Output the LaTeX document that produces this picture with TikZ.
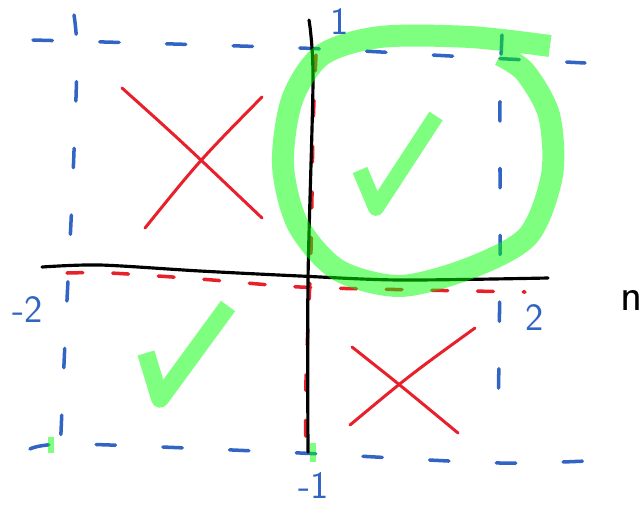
\documentclass[tikz,border=0pt]{standalone}
\usepackage{tikz}
\usetikzlibrary{calc}
\definecolor{penblue}{HTML}{3264C4}
\definecolor{penred}{HTML}{E8202A}
\definecolor{penblack}{HTML}{000000}
\definecolor{pengreen}{HTML}{00FF00}
\tikzset{
  gridline/.style  = {draw=penblue, line width=2pt, line cap=round,
                      dash pattern=on 11pt off 27pt},
  regline/.style   = {draw=penred, line width=2pt, line cap=round,
                      dash pattern=on 9pt off 17pt},
  axisline/.style  = {draw=penblack, line width=1.8pt, line cap=round},
  crossline/.style = {draw=penred, line width=1.7pt, line cap=round},
  ringline/.style  = {draw=pengreen, opacity=0.5, line width=12.5pt},
  checkline/.style = {draw=pengreen, opacity=0.5, line width=9pt, line join=round},
  penlab/.style    = {font=\sffamily\fontsize{22}{24}\selectfont, text=penblue, inner sep=0pt},
}
\begin{document}
\begin{tikzpicture}[x=0.02cm, y=-0.02cm]
  \useasboundingbox (0,0) rectangle (644,504);
  % dashed box lines
  \draw[gridline] plot[smooth] coordinates {(33,40) (300,48) (450,56) (585,63)};
  \draw[gridline] plot[smooth] coordinates {(30,449) (75,444) (300,453) (500,463) (625,459)};
  \draw[gridline] plot[smooth] coordinates {(74,15) (77,60) (72,200) (66,320) (60,455)};
  \draw[gridline] plot[smooth] coordinates {(502,35) (500,100) (500,260) (498,430)};
  % red traces along the axes
  \draw[regline] plot[smooth] coordinates {(67,273) (110,273) (200,279) (300,287) (420,290) (525,292)};
  \draw[regline] plot[smooth] coordinates {(316,55) (313,130) (311,250) (306,380) (306,465)};
  % axes
  \draw[axisline] plot[smooth] coordinates {(42,267) (100,265) (200,271) (300,276) (400,280) (548,278)};
  \draw[axisline] plot[smooth] coordinates {(309,20) (313,80) (308,280) (308,452)};
  % crosses
  \draw[crossline] (122,88) .. controls (180,140) .. (262,218);
  \draw[crossline] (145,228) .. controls (200,160) .. (262,97);
  \draw[crossline] (352,347) .. controls (400,385) .. (458,433);
  \draw[crossline] (350,425) .. controls (410,375) .. (475,328);
  % highlighter ring and ticks
  \draw[ringline] plot[smooth] coordinates {(550,46) (470,37) (380,37) (322,55) (292,100)
    (283,165) (298,225) (338,270) (400,286) (470,268) (528,236) (552,175) (549,115) (525,72) (500,55)};
  \draw[checkline] (360,170) -- (376,208) -- (436,116);
  \draw[checkline, line width=10pt] (146,353) -- (160,399) -- (228,306);
  \draw[draw=pengreen, opacity=0.5, line width=3.5pt] (51,437) -- (51,453);
  \draw[draw=pengreen, opacity=0.5, line width=3.5pt] (313,443) -- (313,462);
  % labels
  \node[penlab] (lm2) at (28,310) {-2};
  \node[penlab] (lp2) at (535,318) {2};
  \node[penlab] (lm1) at (314,485) {-1};
  \node[penlab] (lp1) at (340,22) {1};
  \node[penlab, text=penblack, font=\sffamily\fontsize{26}{28}\selectfont] (ln) at (632,300) {n};
\end{tikzpicture}
\end{document}
